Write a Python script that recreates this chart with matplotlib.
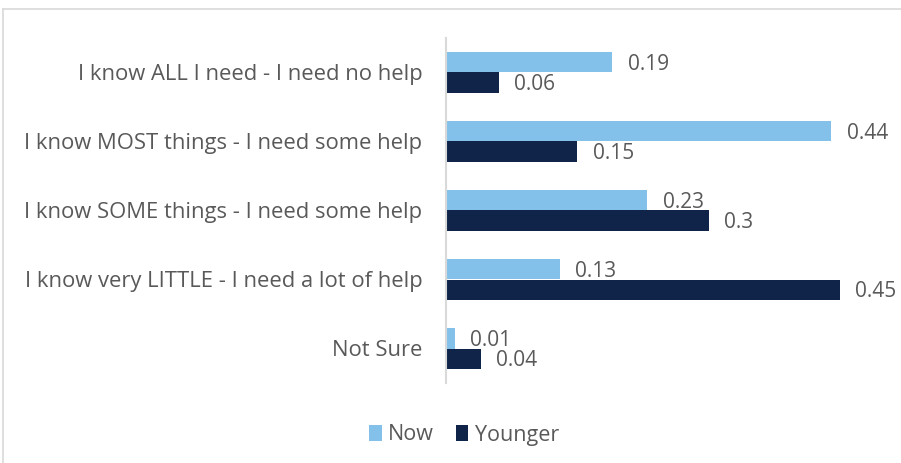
import matplotlib.pyplot as plt
from matplotlib.lines import Line2D
import numpy as np

categories = [
    "I know ALL I need - I need no help",
    "I know MOST things - I need some help",
    "I know SOME things - I need some help",
    "I know very LITTLE - I need a lot of help",
    "Not Sure",
]
now = [0.19, 0.44, 0.23, 0.13, 0.01]
younger = [0.06, 0.15, 0.30, 0.45, 0.04]
now_labels = ["0.19", "0.44", "0.23", "0.13", "0.01"]
younger_labels = ["0.06", "0.15", "0.3", "0.45", "0.04"]

plt.rcParams["font.family"] = ["Open Sans", "DejaVu Sans"]
text_color = "#595959"
c_now = "#84C1EA"
c_young = "#0F2448"

W, H = 901, 463
fig = plt.figure(figsize=(W / 100, H / 100), dpi=100)
ax = fig.add_axes([446 / W, 1 - 383 / H, 438 / W, 345 / H])

y = np.arange(len(categories))
bh = 0.3
ax.barh(y - bh / 2, now, height=bh, color=c_now, label="Now")
ax.barh(y + bh / 2, younger, height=bh, color=c_young, label="Younger")

for yi, v, s in zip(y, now, now_labels):
    ax.annotate(s, (v, yi - bh / 2), xytext=(11, -1.5), textcoords="offset points",
                ha="left", va="center", fontsize=15, color=text_color)
for yi, v, s in zip(y, younger, younger_labels):
    ax.annotate(s, (v, yi + bh / 2), xytext=(11, -1.5), textcoords="offset points",
                ha="left", va="center", fontsize=15, color=text_color)

ax.set_xlim(0, 0.5)
ax.set_ylim(len(categories) - 0.5, -0.5)
ax.set_yticks(y)
ax.set_yticklabels(categories, fontsize=15.8, color=text_color)
ax.tick_params(axis="y", length=0, pad=17)
ax.set_xticks([])
for side in ["top", "right", "bottom"]:
    ax.spines[side].set_visible(False)
ax.spines["left"].set_color("#D9D9D9")
ax.spines["left"].set_linewidth(1.5)

fig.legend(loc="center", bbox_to_anchor=(464 / W, 1 - 435 / H), ncol=2,
           frameon=False, fontsize=15.5, labelcolor=text_color,
           handlelength=0.6, handleheight=0.8, handletextpad=0.3,
           columnspacing=1.0)

# outer chart frame (top and left edges)
fig.add_artist(Line2D([3 / W, 1], [1 - 9 / H, 1 - 9 / H], transform=fig.transFigure,
                      color="#D9D9D9", lw=1.2))
fig.add_artist(Line2D([3 / W, 3 / W], [0, 1 - 9 / H], transform=fig.transFigure,
                      color="#D9D9D9", lw=1.2))

fig.savefig("out.png", dpi=100)
